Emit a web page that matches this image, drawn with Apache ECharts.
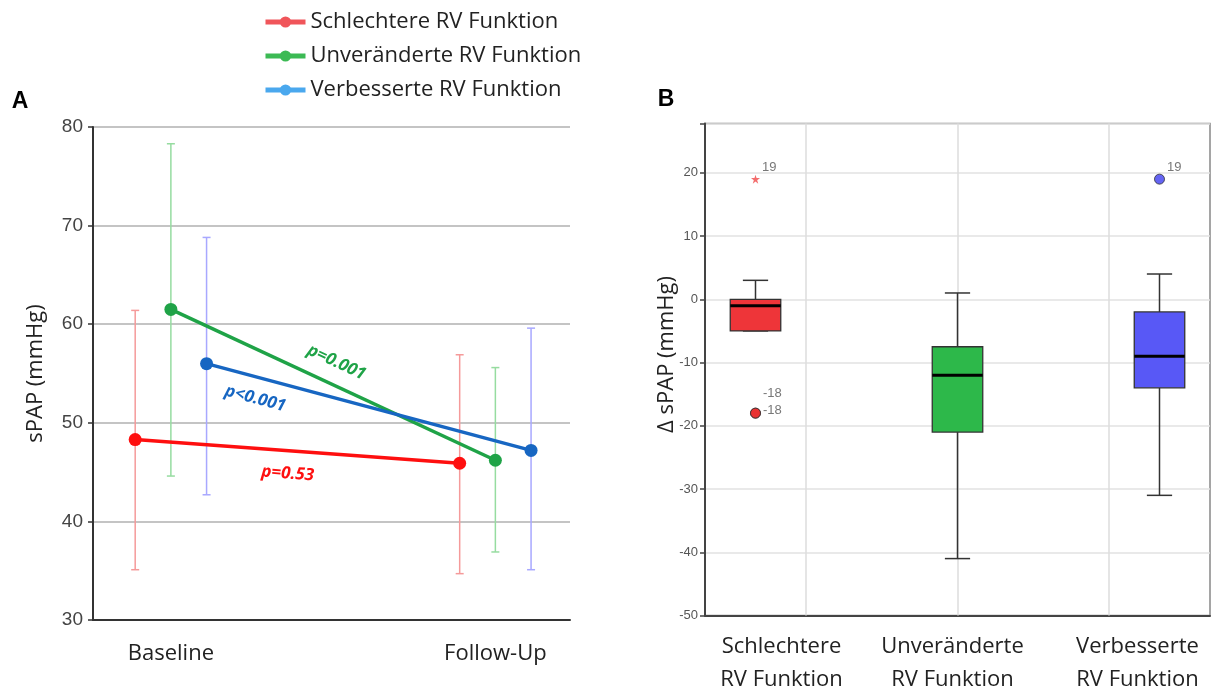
<!DOCTYPE html>
<html>
<head>
<meta charset="utf-8">
<script src="https://cdn.jsdelivr.net/npm/echarts@6/dist/echarts.min.js"></script>
<style>
  html, body { margin: 0; padding: 0; background: #fff; }
  #chart { width: 1220px; height: 693px; }
</style>
</head>
<body>
<div id="chart"></div>
<script>
// ---- Panel A: sPAP at baseline and follow-up (mean with error bars)
const timepoints = ['Baseline', 'Follow-Up'];
const groups = ['Schlechtere RV Funktion', 'Unveränderte RV Funktion', 'Verbesserte RV Funktion'];
const meanSchlechter = [48.3, 45.9];
const meanUnveraendert = [61.5, 46.2];
const meanVerbessert = [56.0, 47.2];
const lowSchlechter = [35.1, 34.7];
const highSchlechter = [61.4, 56.9];
const lowUnveraendert = [44.6, 36.9];
const highUnveraendert = [78.3, 55.6];
const lowVerbessert = [42.7, 35.1];
const highVerbessert = [68.8, 59.6];
const pValues = ['p=0.53', 'p=0.001', 'p<0.001'];
const yTicksA = [30, 40, 50, 60, 70, 80];

// ---- Panel B: change in sPAP per group (boxplot)
const boxCategories = [['Schlechtere', 'RV Funktion'], ['Unveränderte', 'RV Funktion'], ['Verbesserte', 'RV Funktion']];
// min, Q1, median, Q3, max
const boxSchlechter = [-5, -5, -1, 0, 3];
const boxUnveraendert = [-41, -21, -12, -7.5, 1];
const boxVerbessert = [-31, -14, -9, -2, 4];
const extremeValues = [[0, 19]];            // [category, value]
const extremeCases = ['19'];
const outlierValues = [[0, -18], [0, -18], [2, 19]];
const outlierCases = ['-18', '-18', '19'];
const yTicksB = [-50, -40, -30, -20, -10, 0, 10, 20];

// ---- styles
const lineColors = ['#fe0f0f', '#1fa347', '#1766c2'];
const legendColors = ['#f0555a', '#3cba54', '#4aa8ee'];
const errColors = ['#f59a9a', '#96dca0', '#a8a8ff'];
const boxColors = ['#ee3539', '#2db84a', '#5858f6'];
const outlierColors = ['#e82a2a', '#e82a2a', '#3d3df0'];
const outlierLabelOffset = [[0, -20], [0, -3], [0, -12]];
const dodge = [-0.11, 0, 0.11];
const pLabelPlace = [{ t: 0.47, dy: 23 }, { t: 0.51, dy: -24 }, { t: 0.15, dy: 22 }];
const txtFont = '"Open Sans", sans-serif';

const means = [meanSchlechter, meanUnveraendert, meanVerbessert];
const lows = [lowSchlechter, lowUnveraendert, lowVerbessert];
const highs = [highSchlechter, highUnveraendert, highVerbessert];
const boxStats = [boxSchlechter, boxUnveraendert, boxVerbessert];

const chart = echarts.init(document.getElementById('chart'));

const errData = [];
groups.forEach((g, gi) => {
  timepoints.forEach((t, ti) => {
    errData.push([ti + 1 + dodge[gi], lows[gi][ti], highs[gi][ti], gi]);
  });
});

const lineSeries = groups.map((g, gi) => ({
  name: g,
  type: 'line',
  xAxisIndex: 0,
  yAxisIndex: 0,
  data: timepoints.map((t, ti) => [ti + 1 + dodge[gi], means[gi][ti]]),
  symbol: 'circle',
  symbolSize: 13,
  lineStyle: { color: lineColors[gi], width: 3.5 },
  itemStyle: { color: lineColors[gi] },
  z: 5
}));

function renderErr(params, api) {
  const x = api.value(0);
  const lo = api.coord([x, api.value(1)]);
  const hi = api.coord([x, api.value(2)]);
  const c = errColors[api.value(3)];
  const w = 4;
  const st = { stroke: c, lineWidth: 1.5 };
  return {
    type: 'group',
    children: [
      { type: 'line', shape: { x1: lo[0], y1: lo[1], x2: hi[0], y2: hi[1] }, style: st },
      { type: 'line', shape: { x1: lo[0] - w, y1: lo[1], x2: lo[0] + w, y2: lo[1] }, style: st },
      { type: 'line', shape: { x1: hi[0] - w, y1: hi[1], x2: hi[0] + w, y2: hi[1] }, style: st }
    ]
  };
}

function renderBox(params, api) {
  const x = api.value(0);
  const bw = api.size([1, 0])[0] * 0.25;
  const p = (v) => api.coord([x, v]);
  const pMin = p(api.value(1)), pQ1 = p(api.value(2)), pMed = p(api.value(3));
  const pQ3 = p(api.value(4)), pMax = p(api.value(5));
  const cx = pMin[0];
  const cw = bw / 4;
  const st = { stroke: '#333', lineWidth: 1.5 };
  return {
    type: 'group',
    children: [
      { type: 'line', shape: { x1: cx, y1: pQ3[1], x2: cx, y2: pMax[1] }, style: st },
      { type: 'line', shape: { x1: cx, y1: pQ1[1], x2: cx, y2: pMin[1] }, style: st },
      { type: 'line', shape: { x1: cx - cw, y1: pMax[1], x2: cx + cw, y2: pMax[1] }, style: st },
      { type: 'line', shape: { x1: cx - cw, y1: pMin[1], x2: cx + cw, y2: pMin[1] }, style: st },
      { type: 'rect', shape: { x: cx - bw / 2, y: pQ3[1], width: bw, height: pQ1[1] - pQ3[1] },
        style: { fill: boxColors[params.dataIndex], stroke: '#333', lineWidth: 1.3 } },
      { type: 'line', shape: { x1: cx - bw / 2, y1: pMed[1], x2: cx + bw / 2, y2: pMed[1] },
        style: { stroke: '#000', lineWidth: 3 } }
    ]
  };
}

const starPath = 'path://M50,0 L61,35 L98,35 L68,57 L79,91 L50,70 L21,91 L32,57 L2,35 L39,35 Z';
const labelB = { show: true, position: 'right', distance: 2, color: '#555', fontSize: 13, fontFamily: 'Arial' };

const option = {
  animation: false,
  backgroundColor: '#fff',
  textStyle: { fontFamily: txtFont },
  legend: {
    orient: 'vertical',
    left: 258,
    top: 6,
    itemWidth: 40,
    itemHeight: 14,
    itemGap: 12,
    textStyle: { fontSize: 22, color: '#222', fontFamily: txtFont },
    data: groups.map((g, gi) => ({
      name: g,
      itemStyle: { color: legendColors[gi] },
      lineStyle: { color: legendColors[gi], width: 5 }
    }))
  },
  grid: [
    { left: 93, top: 127, width: 477, height: 493, outerBoundsMode: 'none', containLabel: false },
    { left: 705, top: 123.5, width: 505, height: 492, show: true, borderColor: '#888', borderWidth: 1.5,
      outerBoundsMode: 'none', containLabel: false }
  ],
  xAxis: [
    {
      gridIndex: 0, type: 'value', min: 0.76, max: 2.23, interval: 0.04,
      axisLine: { onZero: false, lineStyle: { color: '#333', width: 2 } },
      axisTick: { show: false },
      splitLine: { show: false },
      axisLabel: {
        margin: 23, fontSize: 22, color: '#222', fontFamily: txtFont,
        showMinLabel: false, showMaxLabel: false,
        formatter: (v) => {
          const i = Math.round(v);
          return Math.abs(v - i) < 1e-6 && timepoints[i - 1] ? timepoints[i - 1] : '';
        }
      }
    },
    {
      gridIndex: 1, type: 'value', min: 0.75, max: 3.25, interval: 0.25,
      axisLine: { onZero: false, lineStyle: { color: '#444', width: 2 } },
      axisTick: { show: false },
      splitLine: { show: false },
      axisLabel: {
        margin: 15, fontSize: 22, lineHeight: 33, color: '#222', fontFamily: txtFont,
        showMinLabel: false, showMaxLabel: false,
        rich: {
          c0: { fontSize: 22, lineHeight: 33, padding: [0, 0, 0, 52], fontFamily: txtFont, color: '#222' },
          c1: { fontSize: 22, lineHeight: 33, padding: [0, 10, 0, 0], fontFamily: txtFont, color: '#222' },
          c2: { fontSize: 22, lineHeight: 33, padding: [0, 44, 0, 0], fontFamily: txtFont, color: '#222' }
        },
        formatter: (v) => {
          const i = Math.round(v);
          if (Math.abs(v - i) > 1e-6 || !boxCategories[i - 1]) return '';
          const c = boxCategories[i - 1];
          return '{c' + (i - 1) + '|' + c[0] + '}\n{c' + (i - 1) + '|' + c[1] + '}';
        }
      }
    }
  ],
  yAxis: [
    {
      gridIndex: 0, type: 'value', min: yTicksA[0], max: yTicksA[yTicksA.length - 1], interval: 10,
      name: 'sPAP (mmHg)', nameLocation: 'middle', nameGap: 46,
      nameTextStyle: { fontSize: 22, color: '#222', fontFamily: txtFont },
      axisLine: { show: true, onZero: false, lineStyle: { color: '#333', width: 2 } },
      axisTick: { show: true, length: 5, lineStyle: { color: '#333', width: 1.5 } },
      axisLabel: { fontSize: 19, color: '#444', fontFamily: 'Arial', margin: 10 },
      splitLine: { lineStyle: { color: '#b0b0b0', width: 1.5 } }
    },
    {
      gridIndex: 1, type: 'value', min: yTicksB[0], max: 27.8, interval: 10,
      name: 'Δ sPAP (mmHg)', nameLocation: 'middle', nameGap: 27, nameMoveOverlap: false,
      nameTextStyle: { fontSize: 22, color: '#222', fontFamily: txtFont, padding: [0, 0, 0, 30] },
      axisLine: { show: true, onZero: false, lineStyle: { color: '#444', width: 2 } },
      axisTick: { show: true, length: 5, lineStyle: { color: '#444', width: 1.5 } },
      axisLabel: {
        fontSize: 13, color: '#555', fontFamily: 'Arial', margin: 7,
        formatter: (v) => (yTicksB.indexOf(v) >= 0 ? String(v) : '')
      },
      splitLine: { lineStyle: { color: '#e2e2e2', width: 1.5 } }
    }
  ],
  series: [
    {
      type: 'custom', xAxisIndex: 0, yAxisIndex: 0,
      renderItem: renderErr, data: errData, silent: true, z: 2
    },
    ...lineSeries,
    {
      // vertical grid lines of panel B
      type: 'scatter', xAxisIndex: 1, yAxisIndex: 1, data: [], silent: true, z: 1,
      markLine: {
        silent: true, symbol: 'none', label: { show: false },
        lineStyle: { color: '#dcdcdc', width: 1.5, type: 'solid' },
        data: [{ xAxis: 1.25 }, { xAxis: 2 }, { xAxis: 2.75 }]
      }
    },
    {
      type: 'custom', xAxisIndex: 1, yAxisIndex: 1,
      renderItem: renderBox,
      data: boxStats.map((s, i) => [i + 1, ...s]),
      silent: true, zlevel: 1, z: 3
    },
    {
      type: 'scatter', xAxisIndex: 1, yAxisIndex: 1,
      symbol: starPath, symbolSize: 9,
      itemStyle: { color: '#f04848' },
      data: extremeValues.map((d, i) => ({
        value: [d[0] + 1, d[1]], name: extremeCases[i],
        label: { ...labelB, offset: [0, -12], formatter: '{b}' }
      })),
      zlevel: 1, z: 6
    },
    {
      type: 'scatter', xAxisIndex: 1, yAxisIndex: 1,
      symbol: 'circle', symbolSize: 10,
      data: outlierValues.map((d, i) => ({
        value: [d[0] + 1, d[1]], name: outlierCases[i],
        itemStyle: { color: outlierColors[i], borderColor: '#333', borderWidth: 1 },
        label: { ...labelB, offset: outlierLabelOffset[i], formatter: '{b}' }
      })),
      zlevel: 1, z: 6
    }
  ]
};

chart.setOption(option);

// panel letters and p-value labels along the lines
const graphics = [
  { type: 'text', x: 20, y: 102, style: { text: 'A', font: 'bold 23px Arial', fill: '#000', align: 'center', verticalAlign: 'middle' } },
  { type: 'text', x: 666, y: 100, style: { text: 'B', font: 'bold 23px Arial', fill: '#000', align: 'center', verticalAlign: 'middle' } }
];
groups.forEach((g, gi) => {
  const a = chart.convertToPixel({ gridIndex: 0 }, [1 + dodge[gi], means[gi][0]]);
  const b = chart.convertToPixel({ gridIndex: 0 }, [2 + dodge[gi], means[gi][1]]);
  const pl = pLabelPlace[gi];
  const x = a[0] + (b[0] - a[0]) * pl.t;
  const y = a[1] + (b[1] - a[1]) * pl.t + pl.dy;
  graphics.push({
    type: 'text', x: x, y: y,
    rotation: -Math.atan2(b[1] - a[1], b[0] - a[0]),
    style: {
      text: pValues[gi], fill: lineColors[gi],
      font: 'italic bold 17px "Open Sans", sans-serif',
      align: 'center', verticalAlign: 'middle'
    },
    z: 10
  });
});
chart.setOption({ graphic: graphics });

window.addEventListener('resize', () => {
  chart.resize();
});
</script>
</body>
</html>
